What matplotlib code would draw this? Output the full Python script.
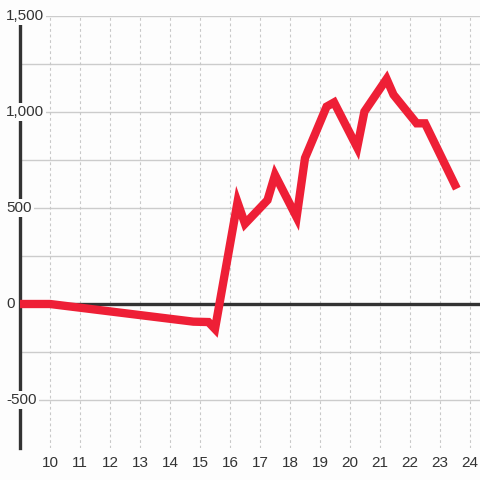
import matplotlib
matplotlib.use("Agg")
import matplotlib.pyplot as plt
from matplotlib.transforms import blended_transform_factory

x_vals = [9, 10, 14.78, 15.28, 15.5, 16.25, 16.5, 17.25, 17.5, 18.22, 18.5, 19.22, 19.47,
          20.24, 20.48, 21.22, 21.45, 22.22, 22.5, 23.5]
y_vals = [0, 0, -92, -94, -130, 530, 418, 541, 672, 452, 760, 1028, 1050,
          815, 1002, 1172, 1090, 941, 941, 620]
x_ticks = list(range(10, 25))
y_grid = [-500, -250, 250, 500, 750, 1000, 1250, 1500]
y_labels = {1500: "1,500", 1000: "1,000", 500: "500", 0: "0", -500: "-500"}

plt.rcParams['font.family'] = ['Liberation Sans', 'DejaVu Sans']
bg = '#fdfdfd'
fig = plt.figure(figsize=(4.8, 4.8), dpi=100, facecolor=bg)
ax = fig.add_axes([20/480, 32/480, 460/480, 432/480])
ax.set_facecolor(bg)
ax.set_xlim(9, 9 + 460/30)
ax.set_ylim(-750, 1500)

for yv in y_grid:
    ax.axhline(yv, color='#cccccc', lw=1.0, zorder=1)
for xv in x_ticks:
    ax.axvline(xv, color='#c8c8c8', lw=0.8, ls=(0, (2.5, 2.5)), zorder=1)
ax.axhline(0, color='#333333', lw=2.4, zorder=2)

ax.plot(x_vals, y_vals, color='#ee1f36', lw=6, solid_joinstyle='miter', zorder=4)

for s in ['top', 'right', 'bottom']:
    ax.spines[s].set_visible(False)
ax.spines['left'].set_color('#333333')
ax.spines['left'].set_linewidth(2.4)
ax.spines['left'].set_bounds(-750, 1460)
ax.spines['left'].set_zorder(3)

ax.set_yticks([])
ax.set_xticks(x_ticks)
ax.set_xticklabels([str(t) for t in x_ticks])
ax.tick_params(axis='x', length=0, pad=6, labelsize=11, labelcolor='#333333')

tr = blended_transform_factory(fig.transFigure, ax.transData)
for yv, lab in y_labels.items():
    ax.text(6/480, yv, lab, transform=tr, ha='left', va='center', fontsize=11,
            color='#333333', zorder=5, clip_on=False,
            bbox=dict(facecolor=bg, edgecolor='none', pad=1.5))

fig.savefig('out.png', dpi=100, facecolor=bg)
